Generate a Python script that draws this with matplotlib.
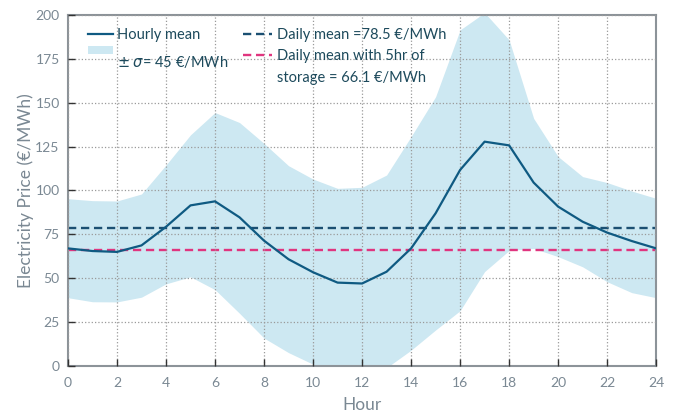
"""
Hourly electricity price profile: mean with a +/- sigma band, plus daily means
with and without storage.
"""

import matplotlib

matplotlib.use("Agg")
import matplotlib.pyplot as plt
from matplotlib.legend_handler import HandlerPatch
from matplotlib.lines import Line2D
from matplotlib.patches import Rectangle

hours = list(range(25))
hourly_mean = [67, 65.5, 65, 68.7, 79.3, 91.5, 93.8, 84.7, 71.4, 60.8, 53.4, 47.5, 47,
               53.7, 67, 87, 111.7, 127.8, 125.7, 104.5, 90.8, 82.2, 76, 71.2, 67]
band_upper = [95.3, 94.2, 94, 98, 114.5, 131.7, 144.4, 138.7, 126.8, 114.1, 106.5, 101.2,
              101.8, 108.8, 130.7, 153.4, 191.5, 201.3, 185.8, 141.1, 119.3, 107.9, 104.5,
              99.7, 95.5]
band_lower = [38.9, 36.6, 36.5, 39.2, 46.8, 50.8, 43.5, 30, 15.9, 7.6, 1, -6, -8, -1, 9,
              20.5, 31.5, 53.8, 65.8, 67, 62.3, 56.5, 48, 41.8, 38.9]
daily_mean = 78.5
daily_mean_storage = 66.1
sigma = 45

x_ticks = list(range(0, 25, 2))
y_ticks = list(range(0, 201, 25))

MEAN_COLOR = "#0f5a82"
BAND_COLOR = "#cde8f2"
DAILY_COLOR = "#1b4f72"
STORAGE_COLOR = "#e0357f"
TEXT_COLOR = "#1d4a5c"
TICK_COLOR = "#7a8893"
DASH = (0, (3.5, 2))

plt.rcParams["font.family"] = ["Lato", "DejaVu Sans"]
plt.rcParams["mathtext.fontset"] = "dejavusans"


def raised_patch(legend, orig_handle, xdescent, ydescent, width, height, fontsize):
    # band swatch sits above its label row
    return Rectangle((-xdescent, -ydescent + 9.5), width, 6)


def main() -> None:
    fig = plt.figure(figsize=(6.73, 4.12), dpi=100)
    ax = fig.add_axes([0.101, 0.1117, 0.874, 0.852])

    ax.fill_between(hours, band_lower, band_upper, color=BAND_COLOR, linewidth=0,
                    zorder=1)
    (mean_line,) = ax.plot(hours, hourly_mean, color=MEAN_COLOR, linewidth=1.6, zorder=3)
    daily_line = ax.axhline(daily_mean, color=DAILY_COLOR, linestyle=DASH,
                            linewidth=1.7, zorder=2)
    storage_line = ax.axhline(daily_mean_storage, color=STORAGE_COLOR, linestyle=DASH,
                              linewidth=1.7, zorder=2)

    ax.set_xlim(0, 24)
    ax.set_ylim(0, 200)
    ax.set_xticks(x_ticks)
    ax.set_yticks(y_ticks)
    ax.grid(True, linestyle=":", color="#9a9a9a", linewidth=0.9)
    ax.set_axisbelow(False)
    ax.tick_params(direction="in", length=5, width=1, color="#333333",
                   labelcolor=TICK_COLOR, labelsize=10)
    ax.tick_params(axis="y", pad=6)
    ax.tick_params(axis="x", pad=8)
    for spine in ax.spines.values():
        spine.set_color("#8c9399")
        spine.set_linewidth(1.5)

    ax.set_xlabel("Hour", color=TICK_COLOR, fontsize=12.5, labelpad=6)
    ax.set_ylabel("Electricity Price (€/MWh)", color=TICK_COLOR, fontsize=12.5,
                  labelpad=1)

    # left legend column: mean line and the sigma band
    band_proxy = Rectangle((0, 0), 1, 1, facecolor=BAND_COLOR, linewidth=0)
    leg1 = ax.legend([mean_line, band_proxy],
                     ["Hourly mean", "$\\pm$ $\\sigma$= %d €/MWh" % sigma],
                     handler_map={band_proxy: HandlerPatch(patch_func=raised_patch)},
                     loc="upper left", bbox_to_anchor=(0.034, 0.963), frameon=False,
                     fontsize=10.5, handlelength=1.75, handletextpad=0.25,
                     labelspacing=0.85, borderpad=0, borderaxespad=0)
    for text in leg1.get_texts():
        text.set_color(TEXT_COLOR)
    ax.add_artist(leg1)

    # right legend column: daily means, second label wraps onto a handle-less row
    blank = Line2D([], [], linestyle="none")
    leg2 = ax.legend([daily_line, storage_line, blank],
                     [f"Daily mean ={daily_mean} €/MWh", "Daily mean with 5hr of",
                      f"storage = {daily_mean_storage} €/MWh"],
                     loc="upper left", bbox_to_anchor=(0.2976, 0.963), frameon=False,
                     fontsize=10.5, handlelength=2.0, handletextpad=0.35,
                     labelspacing=0.5, borderpad=0, borderaxespad=0)
    for text in leg2.get_texts():
        text.set_color(TEXT_COLOR)

    fig.savefig("out.png", dpi=100)
    plt.close(fig)


if __name__ == "__main__":
    main()
